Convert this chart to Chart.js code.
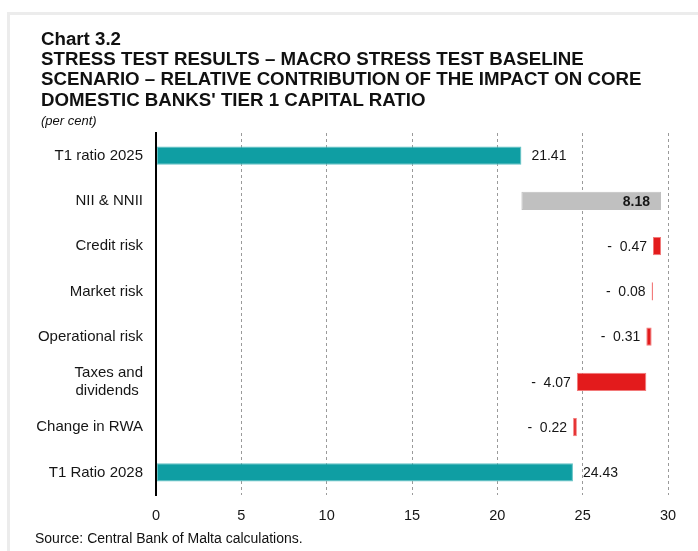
<!DOCTYPE html>
<html>
<head>
<meta charset="utf-8">
<script src="https://cdn.jsdelivr.net/npm/chart.js@4/dist/chart.umd.min.js"></script>
<style>
  html,body{margin:0;padding:0;background:#fff;}
  body{width:698px;height:551px;position:relative;overflow:hidden;font-family:"Liberation Sans",Arial,sans-serif;color:#111;}
  #frame{position:absolute;left:7px;top:12px;width:700px;height:560px;border-left:3px solid #ececec;border-top:3px solid #ececec;}
  #title{position:absolute;left:41px;top:29px;font-weight:bold;font-size:18.7px;line-height:20.2px;white-space:nowrap;}
  #unit{position:absolute;left:41px;top:113px;font-style:italic;font-size:13px;white-space:nowrap;}
  #source{position:absolute;left:35px;top:530px;font-size:14px;white-space:nowrap;color:#111;}
  #wrap{position:absolute;left:0;top:0;width:698px;height:551px;}
</style>
</head>
<body>
<div id="frame"></div>
<div id="wrap"><canvas id="c" width="698" height="551"></canvas></div>
<div id="title">Chart 3.2<br>STRESS TEST RESULTS – MACRO STRESS TEST BASELINE<br>SCENARIO – RELATIVE CONTRIBUTION OF THE IMPACT ON CORE<br>DOMESTIC BANKS' TIER 1 CAPITAL RATIO</div>
<div id="unit">(per cent)</div>
<div id="source">Source: Central Bank of Malta calculations.</div>
<script>
// ---- data ----
const categories = ['T1 ratio 2025', 'NII & NNII', 'Credit risk', 'Market risk', 'Operational risk', ['Taxes and', 'dividends '], 'Change in RWA', 'T1 Ratio 2028'];
const impacts = [21.41, 8.18, -0.47, -0.08, -0.31, -4.07, -0.22, 24.43];
const kinds = ['total', 'up', 'down', 'down', 'down', 'down', 'down', 'total'];
const xTicks = [0, 5, 10, 15, 20, 25, 30];

// build floating ranges (waterfall)
const ranges = [];
let running = 0;
impacts.forEach((v, i) => {
  if (kinds[i] === 'total') { ranges.push([0, v]); running = v; }
  else { ranges.push([running, running + v]); running += v; }
});
const fillColors = kinds.map(k => k === 'total' ? '#0f9ea3' : (k === 'up' ? '#c0c0c0' : '#e31b1c'));
const edgeColors = kinds.map(k => k === 'total' ? '#62c2c4' : (k === 'up' ? '#c0c0c0' : '#f27a7a'));

const labelPlugin = {
  id: 'wfLabels',
  afterDatasetsDraw(chart) {
    const ctx = chart.ctx;
    const meta = chart.getDatasetMeta(0);
    meta.data.forEach((bar, i) => {
      const v = impacts[i];
      const left = Math.min(bar.x, bar.base), right = Math.max(bar.x, bar.base);
      ctx.save();
      ctx.fillStyle = '#161616';
      ctx.textBaseline = 'middle';
      if (kinds[i] === 'total') {
        ctx.font = '14px "Liberation Sans", Arial';
        ctx.textAlign = 'left';
        ctx.fillText(v.toFixed(2), right + 10, bar.y + 1);
      } else if (kinds[i] === 'up') {
        ctx.font = 'bold 14px "Liberation Sans", Arial';
        ctx.textAlign = 'right';
        ctx.fillText(v.toFixed(2), right - 11, bar.y + 1);
      } else {
        ctx.font = '14px "Liberation Sans", Arial';
        ctx.textAlign = 'right';
        ctx.fillText('-  ' + Math.abs(v).toFixed(2), left - 6, bar.y + 1);
      }
      ctx.restore();
    });
  }
};

new Chart(document.getElementById('c'), {
  type: 'bar',
  data: {
    labels: categories,
    datasets: [{
      data: ranges,
      backgroundColor: fillColors,
      borderColor: edgeColors,
      borderWidth: 1,
      borderSkipped: false,
      barPercentage: 0.4,
      categoryPercentage: 1.0
    }]
  },
  options: {
    indexAxis: 'y',
    responsive: false,
    animation: false,
    devicePixelRatio: 1,
    layout: { padding: { top: 133, right: 30, bottom: 0, left: 0 } },
    plugins: { legend: { display: false }, tooltip: { enabled: false }, title: { display: false } },
    scales: {
      x: {
        min: 0, max: 30,
        afterBuildTicks(scale) { scale.ticks = xTicks.map(v => ({ value: v })); },
        afterFit(scale) { scale.height = 56; },
        grid: { color: '#9a9a9a', lineWidth: 1, drawTicks: false },
        border: { display: false, dash: [3, 3] },
        ticks: { color: '#161616', font: { family: '"Liberation Sans", Arial', size: 14.5 }, padding: 12 }
      },
      y: {
        afterFit(scale) { scale.width = 156; },
        grid: { display: false, drawTicks: false },
        border: { display: true, color: '#000', width: 2, z: 2 },
        ticks: { color: '#161616', font: { family: '"Liberation Sans", Arial', size: 15 }, padding: 13 }
      }
    }
  },
  plugins: [labelPlugin]
});
</script>
</body>
</html>
